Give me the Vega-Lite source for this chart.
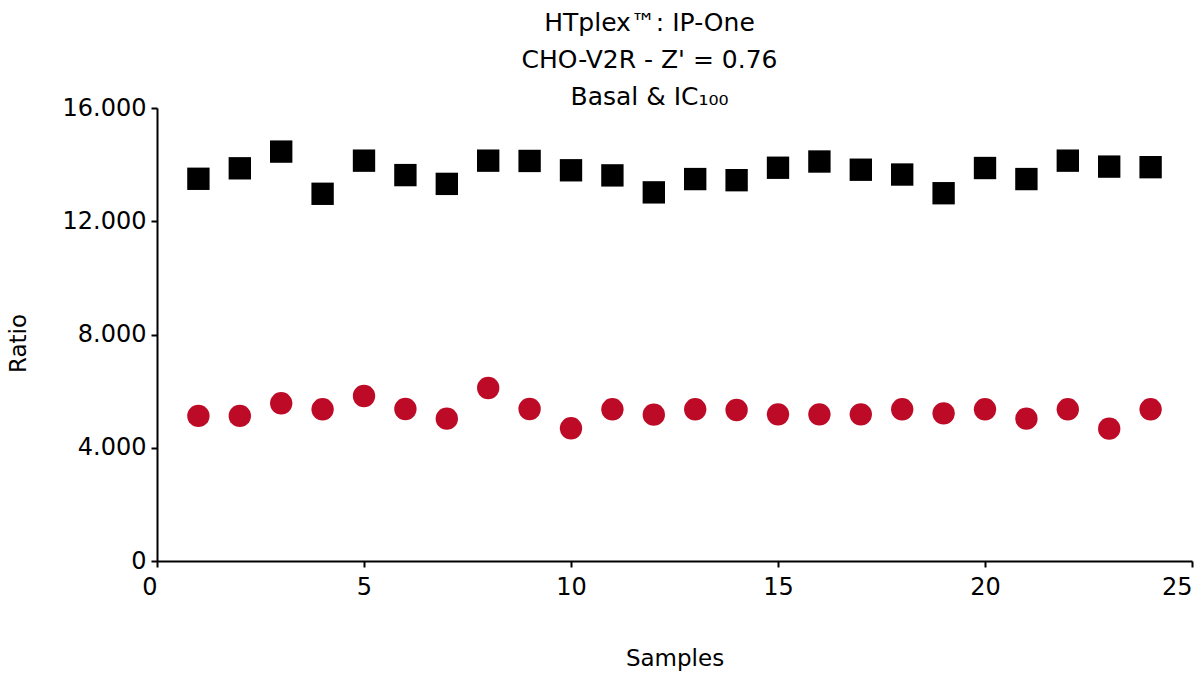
{
  "$schema": "https://vega.github.io/schema/vega-lite/v6.json",
  "autosize": {"type": "none"},
  "width": 1035,
  "height": 453,
  "padding": {"left": 157, "top": 108, "right": 8, "bottom": 131},
  "background": "white",
  "title": {
    "text": ["HTplex™: IP-One", "CHO-V2R - Z' = 0.76", "Basal & IC₁₀₀"],
    "font": "DejaVu Sans",
    "fontSize": 25,
    "fontWeight": "normal",
    "color": "black",
    "lineHeight": 37,
    "anchor": "middle",
    "dx": -25,
    "offset": -14
  },
  "data": {
    "values": [
      {"sample": 1, "ratio": 13500, "series": "Basal"},
      {"sample": 2, "ratio": 13870, "series": "Basal"},
      {"sample": 3, "ratio": 14460, "series": "Basal"},
      {"sample": 4, "ratio": 12970, "series": "Basal"},
      {"sample": 5, "ratio": 14140, "series": "Basal"},
      {"sample": 6, "ratio": 13630, "series": "Basal"},
      {"sample": 7, "ratio": 13320, "series": "Basal"},
      {"sample": 8, "ratio": 14140, "series": "Basal"},
      {"sample": 9, "ratio": 14130, "series": "Basal"},
      {"sample": 10, "ratio": 13800, "series": "Basal"},
      {"sample": 11, "ratio": 13620, "series": "Basal"},
      {"sample": 12, "ratio": 13020, "series": "Basal"},
      {"sample": 13, "ratio": 13490, "series": "Basal"},
      {"sample": 14, "ratio": 13450, "series": "Basal"},
      {"sample": 15, "ratio": 13890, "series": "Basal"},
      {"sample": 16, "ratio": 14110, "series": "Basal"},
      {"sample": 17, "ratio": 13820, "series": "Basal"},
      {"sample": 18, "ratio": 13650, "series": "Basal"},
      {"sample": 19, "ratio": 12990, "series": "Basal"},
      {"sample": 20, "ratio": 13880, "series": "Basal"},
      {"sample": 21, "ratio": 13490, "series": "Basal"},
      {"sample": 22, "ratio": 14140, "series": "Basal"},
      {"sample": 23, "ratio": 13930, "series": "Basal"},
      {"sample": 24, "ratio": 13910, "series": "Basal"},
      {"sample": 1, "ratio": 5124, "series": "IC100"},
      {"sample": 2, "ratio": 5124, "series": "IC100"},
      {"sample": 3, "ratio": 5570, "series": "IC100"},
      {"sample": 4, "ratio": 5358, "series": "IC100"},
      {"sample": 5, "ratio": 5828, "series": "IC100"},
      {"sample": 6, "ratio": 5369, "series": "IC100"},
      {"sample": 7, "ratio": 5027, "series": "IC100"},
      {"sample": 8, "ratio": 6111, "series": "IC100"},
      {"sample": 9, "ratio": 5369, "series": "IC100"},
      {"sample": 10, "ratio": 4687, "series": "IC100"},
      {"sample": 11, "ratio": 5358, "series": "IC100"},
      {"sample": 12, "ratio": 5168, "series": "IC100"},
      {"sample": 13, "ratio": 5358, "series": "IC100"},
      {"sample": 14, "ratio": 5334, "series": "IC100"},
      {"sample": 15, "ratio": 5180, "series": "IC100"},
      {"sample": 16, "ratio": 5180, "series": "IC100"},
      {"sample": 17, "ratio": 5180, "series": "IC100"},
      {"sample": 18, "ratio": 5358, "series": "IC100"},
      {"sample": 19, "ratio": 5216, "series": "IC100"},
      {"sample": 20, "ratio": 5358, "series": "IC100"},
      {"sample": 21, "ratio": 5027, "series": "IC100"},
      {"sample": 22, "ratio": 5358, "series": "IC100"},
      {"sample": 23, "ratio": 4675, "series": "IC100"},
      {"sample": 24, "ratio": 5358, "series": "IC100"}
    ]
  },
  "mark": {"type": "point", "filled": true, "opacity": 1, "size": 500},
  "encoding": {
    "x": {
      "field": "sample",
      "type": "quantitative",
      "title": "Samples",
      "scale": {"domain": [0, 25], "nice": false, "zero": false},
      "axis": {
        "values": [0, 5, 10, 15, 20, 25],
        "labelFlush": false,
        "labelAlign": {"expr": "datum.value == 0 || datum.value == 25 ? 'right' : 'center'"},
        "labelPadding": 8,
        "titleY": 97,
        "titleBaseline": "middle"
      }
    },
    "y": {
      "field": "ratio",
      "type": "quantitative",
      "title": "Ratio",
      "scale": {"domain": [0, 16000], "nice": false},
      "axis": {
        "values": [0, 4000, 8000, 12000, 16000],
        "labelExpr": "replace(format(datum.value, ','), ',', '.')",
        "labelPadding": 5,
        "titleX": -139,
        "titleY": 235,
        "titleBaseline": "middle"
      }
    },
    "shape": {
      "field": "series",
      "type": "nominal",
      "scale": {"domain": ["Basal", "IC100"], "range": ["square", "circle"]},
      "legend": null
    },
    "color": {
      "field": "series",
      "type": "nominal",
      "scale": {"domain": ["Basal", "IC100"], "range": ["#000000", "#BD0B27"]},
      "legend": null
    }
  },
  "config": {
    "view": {"stroke": null},
    "font": "DejaVu Sans",
    "axis": {
      "grid": false,
      "domainColor": "black",
      "domainWidth": 2,
      "tickColor": "black",
      "tickWidth": 2,
      "tickSize": 6,
      "labelFont": "DejaVu Sans",
      "labelFontSize": 24,
      "labelColor": "black",
      "titleFont": "DejaVu Sans",
      "titleFontSize": 23,
      "titleFontWeight": "normal",
      "titleColor": "black"
    }
  }
}
